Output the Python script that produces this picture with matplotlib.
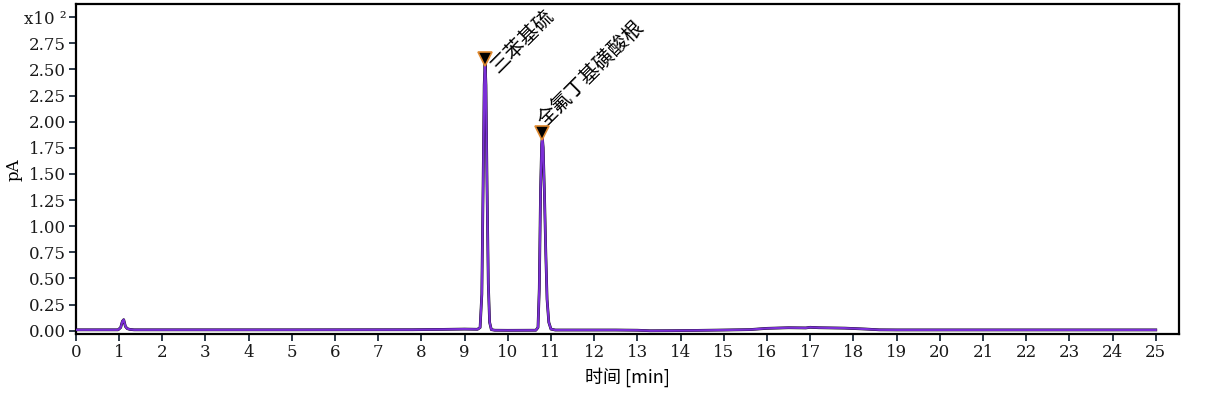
import matplotlib
matplotlib.use("Agg")
import matplotlib.pyplot as plt

# ---- data (signal in units of x10^2 pA) ----
time_min = [0.00, 0.98, 1.04, 1.08, 1.11, 1.15, 1.19, 1.25, 1.35, 5.00, 7.80, 8.50,
            9.00, 9.30, 9.36, 9.40, 9.43, 9.455, 9.475, 9.495, 9.52, 9.55, 9.58,
            9.62, 9.70, 10.00, 10.65, 10.70, 10.73, 10.76, 10.785, 10.80, 10.82,
            10.85, 10.88, 10.91, 10.95, 11.00, 11.10, 12.50, 13.00, 13.30, 13.80,
            14.30, 15.00, 15.60, 16.00, 16.50, 16.90, 17.00, 17.20, 17.80, 18.30,
            18.60, 19.00, 25.00]
signal = [0.008, 0.008, 0.030, 0.090, 0.105, 0.040, 0.020, 0.012, 0.008, 0.008, 0.009,
          0.012, 0.015, 0.013, 0.030, 0.350, 1.400, 2.350, 2.570, 2.350, 1.400, 0.450,
          0.080, 0.010, 0.004, 0.003, 0.004, 0.030, 0.400, 1.350, 1.780, 1.850, 1.750,
          1.300, 0.750, 0.300, 0.080, 0.015, 0.006, 0.006, 0.004, -0.001, 0.000,
          0.002, 0.006, 0.010, 0.022, 0.028, 0.026, 0.032, 0.028, 0.024, 0.015,
          0.008, 0.007, 0.007]

peak_names = ["三苯基硫", "全氟丁基磺酸根"]
peak_times = [9.47, 10.80]
peak_marks = [2.60, 1.89]

x_ticks = list(range(0, 26))
y_ticks = [0.00, 0.25, 0.50, 0.75, 1.00, 1.25, 1.50, 1.75, 2.00, 2.25, 2.50, 2.75, 3.00]
y_labels = ["0.00", "0.25", "0.50", "0.75", "1.00", "1.25", "1.50", "1.75", "2.00",
            "2.25", "2.50", "2.75", "x10 ²"]

CJK = ["Noto Sans CJK SC", "DejaVu Sans"]
SERIF = ["DejaVu Serif"]

fig = plt.figure(figsize=(12.10, 3.97), dpi=100)
ax = fig.add_axes([0.0626, 0.1587, 0.9115, 0.8305])

ax.plot(time_min, signal, color="black", lw=2.0, zorder=2)
ax.plot(time_min, signal, color="#7b2fd6", lw=1.6, zorder=3)

ax.plot(peak_times, peak_marks, linestyle="none", marker="v", markersize=10,
        markerfacecolor="black", markeredgecolor="#e08a30", markeredgewidth=1.2, zorder=4)

offsets = [(17, -18), (6, 2)]
for name, pt, pm, off in zip(peak_names, peak_times, peak_marks, offsets):
    ax.annotate(name, xy=(pt, pm), xytext=off, textcoords="offset pixels",
                rotation=45, rotation_mode="anchor", ha="left", va="bottom",
                fontsize=14.5, family=CJK, color="black", fontweight="light")

ax.set_xlim(0, 25.53)
ax.set_ylim(-0.032, 3.123)
ax.set_xticks(x_ticks)
ax.set_xticklabels([str(v) for v in x_ticks], family=SERIF, fontsize=12)
ax.set_yticks(y_ticks)
ax.set_yticklabels(y_labels, family=SERIF, fontsize=12)

for s in ax.spines.values():
    s.set_linewidth(1.6)
    s.set_color("black")

ax.tick_params(direction="out", length=5, width=1.3, color="#1c2b3a",
               labelcolor="#1a1a1a", pad=2)

fig.text(14 / 1210, 1 - 170 / 397, "pA", rotation=90, ha="center", va="center",
         fontsize=12, family=SERIF)
fig.text(627 / 1210, 1 - 377 / 397, "时间 [min]", ha="center", va="center",
         fontsize=13, family=CJK)

fig.savefig("out.png", dpi=100, facecolor="white")
